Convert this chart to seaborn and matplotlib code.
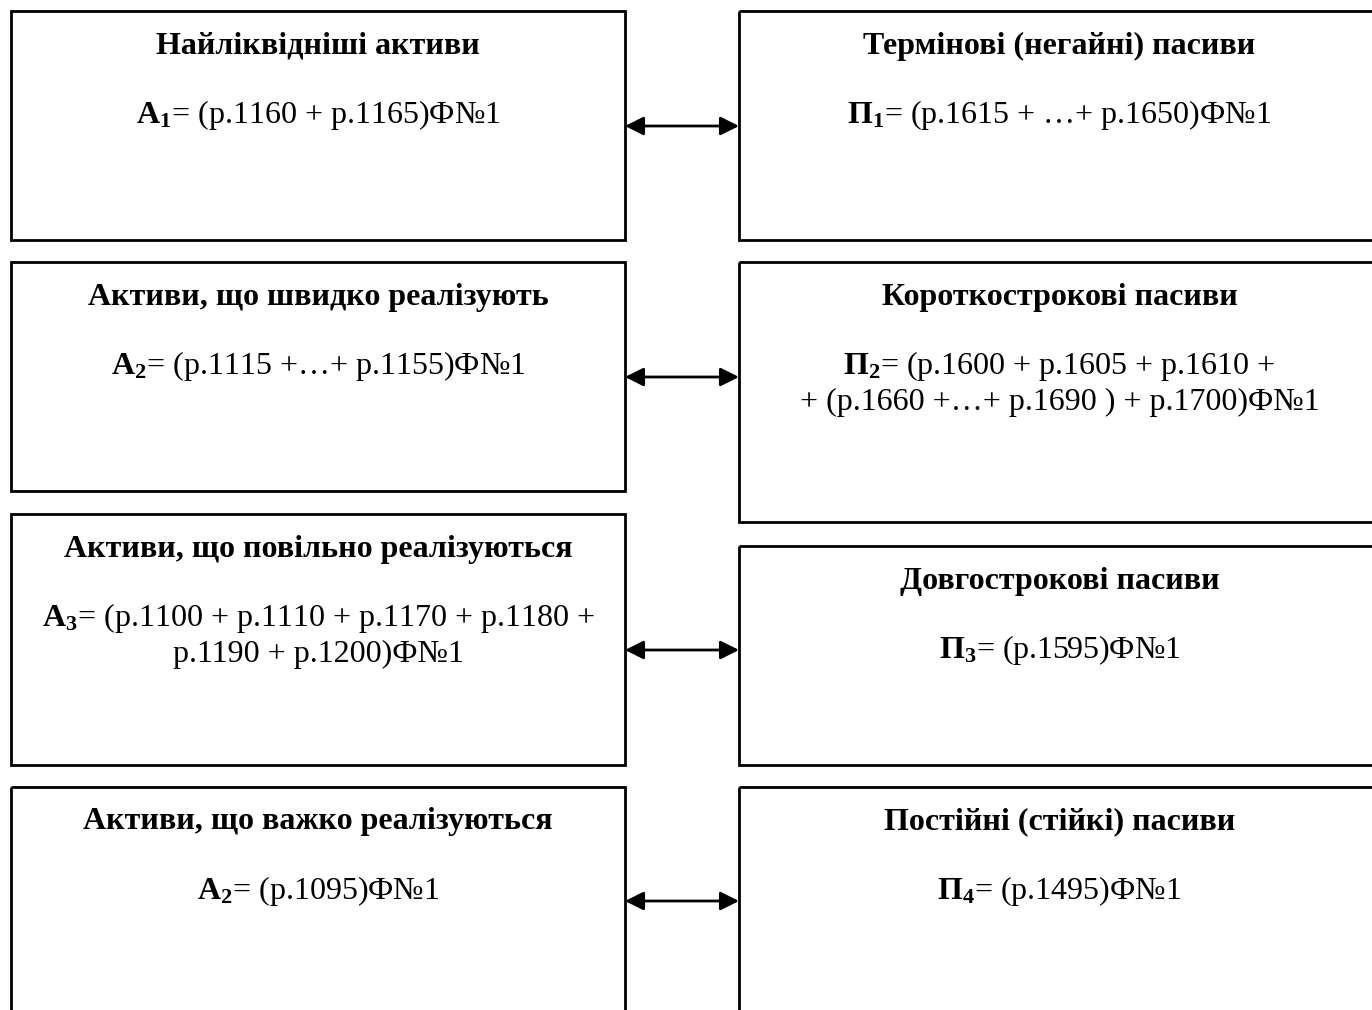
import matplotlib
matplotlib.use("Agg")
import matplotlib.pyplot as plt
import matplotlib.patches as patches
import seaborn as sns

# Box contents: left column = assets, right column = liabilities
left_titles = [
    "Найліквідніші активи",
    "Активи, що швидко реалізують",
    "Активи, що повільно реалізуються",
    "Активи, що важко реалізуються",
]
left_formulas = [
    r"$\mathbf{A_1}$= (р.1160 + р.1165)Ф№1",
    r"$\mathbf{A_2}$= (р.1115 +…+ р.1155)Ф№1",
    r"$\mathbf{A_3}$= (р.1100 + р.1110 + р.1170 + р.1180 +" + "\n" + "р.1190 + р.1200)Ф№1",
    r"$\mathbf{A_2}$= (р.1095)Ф№1",
]
right_titles = [
    "Термінові (негайні) пасиви",
    "Короткострокові пасиви",
    "Довгострокові пасиви",
    "Постійні (стійкі) пасиви",
]
right_formulas = [
    r"$\mathbf{П_1}$= (р.1615 + …+ р.1650)Ф№1",
    r"$\mathbf{П_2}$= (р.1600 + р.1605 + р.1610 +" + "\n" + "+ (р.1660 +…+ р.1690 ) + р.1700)Ф№1",
    r"$\mathbf{П_3}$= (р.1595)Ф№1",
    r"$\mathbf{П_4}$= (р.1495)Ф№1",
]

# layout (pixel units, y downwards)
left_x = (11, 625)
right_x = (739, 1380)
left_rows = [(11, 240), (262, 491), (514, 765), (787, 1020)]
right_rows = [(11, 240), (262, 522), (546, 765), (787, 1020)]
arrow_y = [126, 377, 650, 901]

sns.set_theme(style="white")
plt.rcParams["font.family"] = ["Liberation Serif", "DejaVu Serif"]
plt.rcParams["text.color"] = "black"
plt.rcParams["mathtext.fontset"] = "custom"
plt.rcParams["mathtext.rm"] = "Liberation Serif"
plt.rcParams["mathtext.bf"] = "Liberation Serif:bold"

fig = plt.figure(figsize=(13.72, 10.10), dpi=100)
ax = fig.add_axes([0, 0, 1, 1])
ax.set_xlim(0, 1372)
ax.set_ylim(1010, 0)
ax.axis("off")


def draw_column(xs, rows, titles, formulas):
    cx = (xs[0] + xs[1]) / 2
    for (top, bottom), title, formula in zip(rows, titles, formulas):
        ax.add_patch(patches.Rectangle((xs[0], top), xs[1] - xs[0], bottom - top,
                                       fill=False, edgecolor="black", lw=2))
        ax.text(cx, top + 35, title, ha="center", va="center",
                fontsize=23, fontweight="bold", color="black")
        ax.text(cx, top + 87, formula, ha="center", va="top",
                fontsize=23, linespacing=1.2, color="black")


draw_column(left_x, left_rows, left_titles, left_formulas)
draw_column(right_x, right_rows, right_titles, right_formulas)

for y in arrow_y:
    ax.annotate("", xy=(left_x[1], y), xytext=(right_x[0], y),
                arrowprops=dict(arrowstyle="<|-|>", lw=2, color="black",
                                mutation_scale=28, shrinkA=0, shrinkB=0))

plt.savefig("out.png", dpi=100)
